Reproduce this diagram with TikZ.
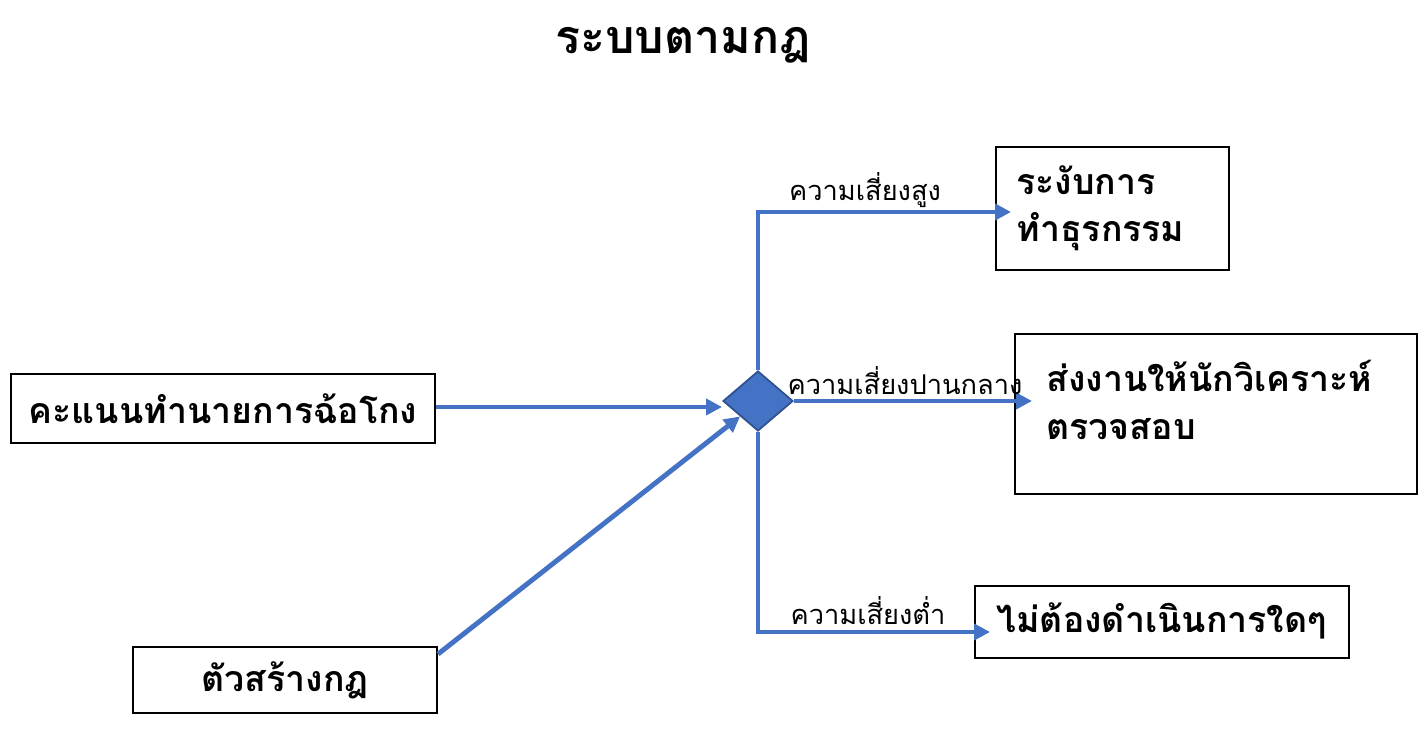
\documentclass[tikz,border=0pt]{standalone}
\usepackage{fontspec}
\newfontfamily\thaifont[Script=Thai]{Loma}
\usetikzlibrary{shapes.geometric,arrows.meta,positioning}
\definecolor{flowblue}{HTML}{4472C4}
\definecolor{diamondedge}{HTML}{2F528F}

\begin{document}
\begin{tikzpicture}[x=0.02cm, y=-0.02cm, thick, >={Triangle[length=9pt,width=9pt]},
  box/.style={draw=black, line width=1.2pt, anchor=north west, inner sep=0pt},
  boxtext/.style={font=\thaifont\bfseries\fontsize{20.3}{27}\selectfont},
  flow/.style={draw=flowblue, line width=2.8pt, ->, color=flowblue},
  risk/.style={font=\thaifont\fontsize{15.5}{18}\selectfont}]

\useasboundingbox (0,0) rectangle (1428,736);

\node (title) at (683,45) {\thaifont\bfseries\fontsize{26.5}{30}\selectfont ระบบตามกฎ};

% input boxes
\node[box, minimum width=424*0.02cm, minimum height=69*0.02cm, boxtext] (score) at (10,373) {คะแนนทำนายการฉ้อโกง};
\node[box, minimum width=304*0.02cm, minimum height=66*0.02cm, boxtext] (rule) at (132,646) {ตัวสร้างกฎ};

% decision diamond
\node[diamond, fill=flowblue, draw=diamondedge, line width=1pt, minimum width=70*0.02cm, minimum height=60*0.02cm,
  inner sep=0pt] (dec) at (758,401) {};

% output boxes
\node[box, minimum width=233*0.02cm, minimum height=123*0.02cm] (stop) at (995,146) {};
\node[boxtext, anchor=west, align=left] (stoptext) at (1010,208) {ระงับการ\\ทำธุรกรรม};
\node[box, minimum width=402*0.02cm, minimum height=160*0.02cm] (check) at (1014,333) {};
\node[boxtext, anchor=west, align=left] (checktext) at (1040,400) {ส่งงานให้นักวิเคราะห์\\ตรวจสอบ};
\node[box, minimum width=374*0.02cm, minimum height=72*0.02cm] (none) at (974,585) {};
\node[boxtext, anchor=west] (nonetext) at (990,621) {ไม่ต้องดำเนินการใดๆ};

\coordinate (up) at (760,212);
\coordinate (down) at (760,632);

% arrows
\draw[flow] (score.east |- 0,407) -- (722,407);
\draw[flow] (rule.north east) ++(0,8) -- (dec.south west);
\draw[flow] (dec.north) |- ([xshift=16*0.02cm]stop.west |- up);
\draw[flow] (dec.east) -- ([xshift=18*0.02cm]check.west |- dec.east);
\draw[flow] (dec.south) |- ([xshift=16*0.02cm]none.west |- down);

% risk labels
\node[risk] (high) at (865,190) {ความเสี่ยงสูง};
\node[risk] (mid) at (905,381) {ความเสี่ยงปานกลาง};
\node[risk] (low) at (868,611) {ความเสี่ยงต่ำ};

\end{tikzpicture}
\end{document}
